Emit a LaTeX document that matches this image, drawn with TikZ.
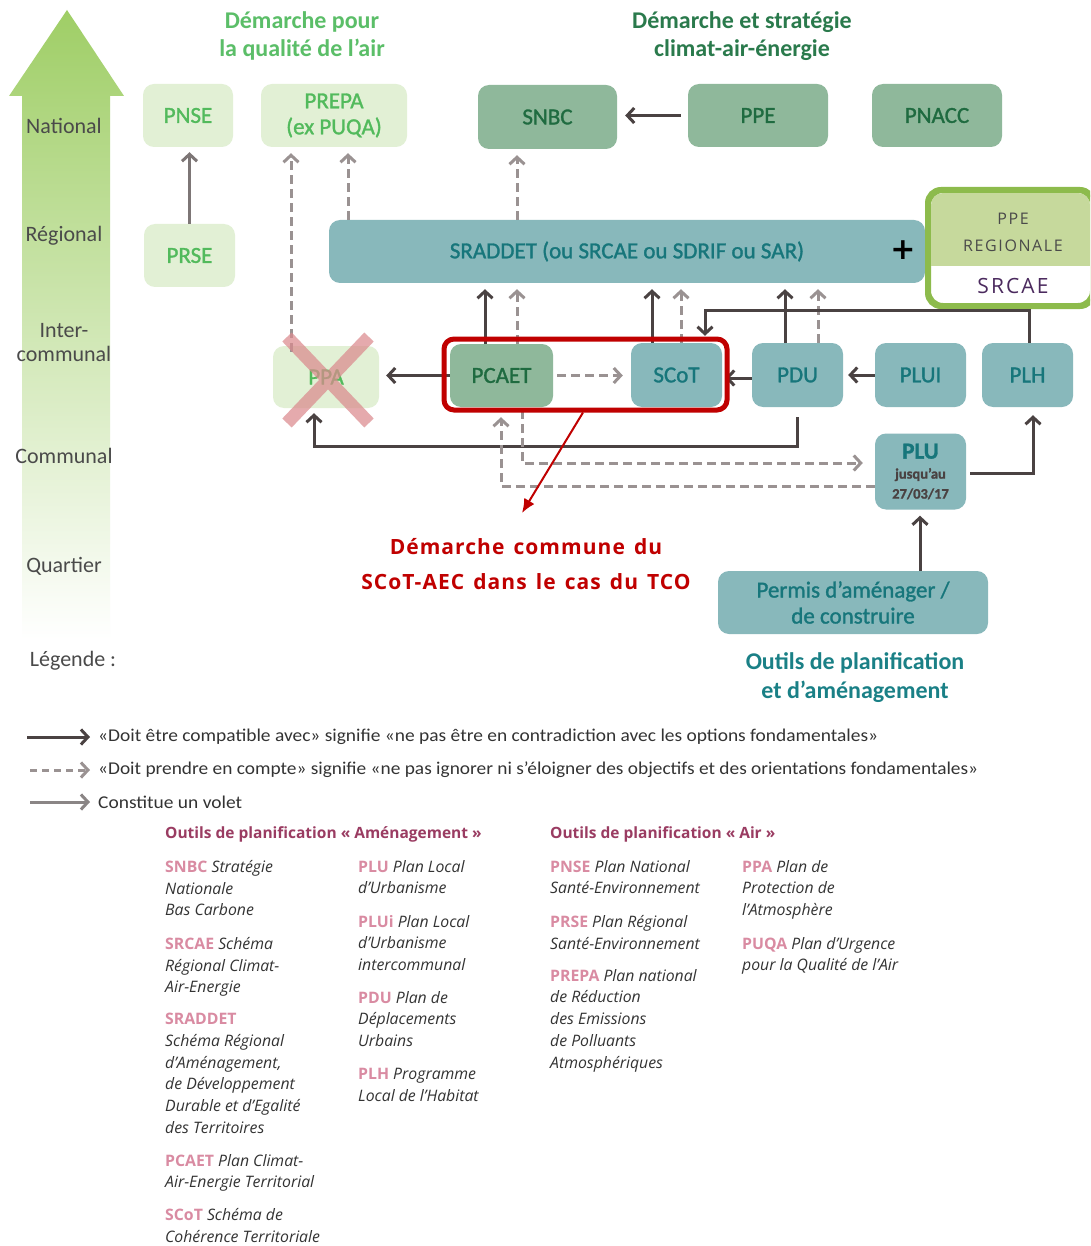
\documentclass[tikz,border=0pt]{standalone}
\usepackage{fontspec}
\usepackage{graphicx}
\setmainfont{Carlito}
\newfontfamily\boxfont[FakeBold=1.3]{Carlito}
\newfontfamily\osans{Open Sans}
\newfontfamily\osansls[LetterSpace=5,WordSpace=1.4]{Open Sans}
\newfontfamily\ppefont[LetterSpace=10]{Open Sans}
\newfontfamily\dejavu{DejaVu Sans}
\usetikzlibrary{arrows.meta,calc}
\newcommand{\fs}[2]{\fontsize{#1}{#2}\selectfont}
\definecolor{lgfill}{HTML}{E2F0D5}
\definecolor{lgtext}{HTML}{52BA5C}
\definecolor{mgfill}{HTML}{8FB89B}
\definecolor{mgtext}{HTML}{1F6B40}
\definecolor{tfill}{HTML}{88B8BB}
\definecolor{ttext}{HTML}{17767B}
\definecolor{dk}{HTML}{4A4242}
\definecolor{gr}{HTML}{9A9292}
\definecolor{grb}{HTML}{7D7676}
\definecolor{grc}{HTML}{8A8585}
\definecolor{redc}{HTML}{C00000}
\definecolor{hone}{HTML}{5BBE68}
\definecolor{htwo}{HTML}{2A7A4C}
\definecolor{plum}{HTML}{9A3C62}
\definecolor{pinkab}{HTML}{D98BA2}
\definecolor{levc}{HTML}{4A4A4A}
\definecolor{ppeb}{HTML}{8DBB4C}
\definecolor{ppef}{HTML}{C6D99C}
\definecolor{purp}{HTML}{4B2A5E}
\definecolor{xred}{HTML}{DB8A8E}
\definecolor{arrg}{HTML}{9FCE66}
\definecolor{gtext}{HTML}{333333}
\definecolor{tcap}{HTML}{1A8086}
\newcommand{\ab}[1]{{\upshape\bfseries\color{pinkab}#1}}
\newcommand{\smalldk}[1]{{\color{dk}\bfseries\fontsize{14.5}{19}\selectfont #1}}
\begin{document}
\begin{tikzpicture}[x=1pt,y=-1pt,
  >={Straight Barb[length=7pt,width=15pt]},
  box/.style={rounded corners=11pt, inner sep=0pt, font=\boxfont\fs{23}{26}, align=center},
  lgbox/.style={box, fill=lgfill, text=lgtext},
  mgbox/.style={box, fill=mgfill, text=mgtext},
  tlbox/.style={box, fill=tfill, text=ttext},
  sarr/.style={->, draw=dk, line width=3pt},
  darr/.style={->, draw=gr, line width=3pt, dash pattern=on 9pt off 5pt},
  garr/.style={->, draw=grb, line width=3pt},
  levl/.style={font=\fs{22}{24}, text=levc, align=center},
  gl/.style={anchor=north west, inner sep=0pt, align=left, text=gtext, font=\osans\itshape\fs{15.8}{21.7}},
  glhead/.style={anchor=west, inner sep=0pt, text=plum, font=\osans\bfseries\fs{15.5}{17}},
  legtxt/.style={anchor=west, inner sep=0pt, text=gtext, font=\fs{18}{20}}
]
\clip (0,0) rectangle (1090,1246);
\fill[white] (0,0) rectangle (1090,1246);

% gradient level arrow
\shade[top color=arrg, middle color=arrg!55, bottom color=white]
  (67,10) -- (124,96) -- (110,96) -- (110,640) -- (22,640) -- (22,96) -- (9,96) -- cycle;

\node[levl] (lvnat) at (64,126) {National};
\node[levl] (lvreg) at (64,236) {Régional};
\node[levl] (lvint) at (64,343) {Inter-\\communal};
\node[levl] (lvcom) at (64,456) {Communal};
\node[levl] (lvqua) at (64,566) {Quartier};
\node[levl] (lvleg) at (73,661) {Légende :};

% headings
\node[align=center, text=hone, font=\bfseries\fs{24}{28}] (hair) at (302,36) {Démarche pour\\la qualité de l’air};
\node[align=center, text=htwo, font=\bfseries\fs{24}{28}] (hclim) at (742,36) {Démarche et stratégie\\climat-air-énergie};

% nodes
\node[lgbox, minimum width=90pt, minimum height=63pt] (pnse) at (188,115.5) {PNSE};
\node[lgbox, minimum width=146pt, minimum height=63pt] (prepa) at (334,115.5) {PREPA\\(ex PUQA)};
\node[lgbox, minimum width=91pt, minimum height=63pt] (prse) at (189.5,255.5) {PRSE};
\node[mgbox, minimum width=139pt, minimum height=64pt] (snbc) at (547.5,117) {SNBC};
\node[mgbox, minimum width=140pt, minimum height=63pt] (ppe) at (758,115.5) {PPE};
\node[mgbox, minimum width=130pt, minimum height=63pt] (pnacc) at (937,115.5) {PNACC};
\node[tlbox, minimum width=596pt, minimum height=63pt] (srad) at (627,251.5) {SRADDET (ou SRCAE ou SDRIF ou SAR)};
\node[text=black, font=\dejavu\bfseries\fs{30}{30}, inner sep=0pt] (plus) at (903,250) {+};

% PPE regionale
\node[draw=ppeb, line width=4pt, rounded corners=14pt, fill=white, minimum width=163pt, minimum height=114pt, inner sep=0pt] (ppereg) at (1010.5,248) {};
\begin{scope}
  \clip[rounded corners=12pt] (931,193) rectangle (1090,303);
  \fill[ppef] (931,193) rectangle (1090,266);
\end{scope}
\draw[ppeb, line width=4pt, rounded corners=14pt] (ppereg.north west) rectangle (ppereg.south east);
\node[text=levc, font=\ppefont\fs{16}{18}] (ppet1) at (1013,219) {PPE};
\node[text=levc, font=\ppefont\fs{16}{18}] (ppet2) at (1013,246) {REGIONALE};
\node[text=purp, font=\ppefont\fs{21}{24}] (ppet3) at (1013,286) {SRCAE};

\node[lgbox, minimum width=106pt, minimum height=62pt] (ppa) at (326,377) {PPA};
\node[mgbox, minimum width=103pt, minimum height=63pt] (pcaet) at (501.5,375.5) {PCAET};
\node[tlbox, minimum width=91pt, minimum height=64pt] (scot) at (676.5,375) {SCoT};
\node[tlbox, minimum width=91pt, minimum height=64pt] (pdu) at (797.5,375) {PDU};
\node[tlbox, minimum width=91pt, minimum height=64pt] (plui) at (920.5,375) {PLUI};
\node[tlbox, minimum width=91pt, minimum height=64pt] (plh) at (1027.5,375) {PLH};
\node[tlbox, minimum width=91pt, minimum height=76pt, font=\boxfont\fs{23}{20}] (plu) at (920.5,471.5) {\textbf{PLU}\\\smalldk{jusqu’au}\\\smalldk{27/03/17}};
\node[tlbox, minimum width=270pt, minimum height=63pt] (permis) at (853,602.5) {Permis d’aménager /\\de construire};

% column / row coordinates
\coordinate (x291) at (291,0);
\coordinate (x348) at (348,0);
\coordinate (x485) at (485,0);
\coordinate (x517) at (517,0);
\coordinate (x652) at (652,0);
\coordinate (x681) at (681,0);
\coordinate (x785) at (785,0);
\coordinate (x818) at (818,0);
\coordinate (x705) at (705,0);
\coordinate (x1029) at (1029,0);
\coordinate (x314) at (314,0);
\coordinate (x522) at (522,0);
\coordinate (x501) at (501,0);
\coordinate (x1033) at (1033,0);
\coordinate (x583) at (583,0);
\coordinate (x920) at (920,0);
\coordinate (y310) at (0,310);
\coordinate (y446) at (0,446);
\coordinate (y463) at (0,463);
\coordinate (y486) at (0,486);
\coordinate (y473) at (0,473);
\coordinate (y378) at (0,378);

% connectors
\draw[garr, shorten >=5pt] (prse.north) -- (prse.north |- pnse.south);
\draw[darr, shorten <=-6pt, shorten >=6pt] (ppa.north -| x291) -- (prepa.south -| x291);
\draw[darr, shorten >=6pt] (srad.north -| x348) -- (prepa.south -| x348);
\draw[darr, shorten >=6pt] (srad.north -| x517) -- (snbc.south -| x517);
\draw[sarr, shorten <=7pt, shorten >=8pt] (ppe.west) -- (snbc.east |- ppe.west);
\draw[sarr, shorten >=6pt] (pcaet.north -| x485) -- (srad.south -| x485);
\draw[darr, shorten >=6pt] (pcaet.north -| x517) -- (srad.south -| x517);
\draw[sarr, shorten >=6pt] (scot.north -| x652) -- (srad.south -| x652);
\draw[darr, shorten >=6pt] (scot.north -| x681) -- (srad.south -| x681);
\draw[sarr, shorten >=6pt] (pdu.north -| x785) -- (srad.south -| x785);
\draw[darr, shorten >=6pt] (pdu.north -| x818) -- (srad.south -| x818);
\draw[sarr, shorten >=7pt] (plh.north -| x1029) |- (x705 |- y310) -- (scot.north -| x705);
\draw[sarr, shorten >=7pt] (pcaet.west) -- (ppa.east |- pcaet.west);
\draw[darr, shorten <=4pt, shorten >=8pt] (pcaet.east) -- (scot.west |- pcaet.east);
\draw[sarr, shorten >=3pt] (pdu.west |- y378) -- (scot.east |- y378);
\draw[sarr, shorten >=5pt] (plui.west) -- (pdu.east |- plui.west);
\draw[sarr, shorten <=10pt, shorten >=5pt] (pdu.south) -- (pdu.south |- y446) -| (ppa.south -| x314);
\draw[darr, shorten <=3pt, shorten >=12pt] (pcaet.south -| x522) |- (plu.west |- y463);
\draw[darr, shorten >=10pt] (plu.west |- y486) -| (pcaet.south -| x501);
\draw[sarr, shorten <=4pt, shorten >=8pt] (plu.east |- y473) -| (plh.south -| x1033);
\draw[sarr, shorten >=6pt] (permis.north -| x920) -- (plu.south -| x920);

% red X over PPA
\draw[xred, line width=13pt, opacity=0.72] (287,337) -- (369,423) (369,337) -- (287,423);

% red frame and annotation
\node[draw=redc, line width=5pt, rounded corners=10pt, minimum width=283pt, minimum height=71pt, inner sep=0pt] (tco) at (585.5,374.5) {};
\coordinate (redend) at (522,513);
\draw[redc, line width=2pt, -{Latex[length=14pt,width=12pt]}] (tco.south -| x583) -- (redend);
\node[align=center, text=redc, font=\osansls\bfseries\fs{21}{35}] (redcap) at (526,564.5) {Démarche commune du\\SCoT-AEC dans le cas du TCO};

\node[align=center, text=tcap, font=\bfseries\fs{24}{29}] (tcapn) at (855,677.5) {Outils de planification\\et d’aménagement};

% legend
\coordinate (la1) at (27,737); \coordinate (lb1) at (90,737);
\coordinate (la2) at (30,770); \coordinate (lb2) at (90,770);
\coordinate (la3) at (30,802); \coordinate (lb3) at (90,802);
\draw[sarr] (la1) -- (lb1);
\draw[darr, dash pattern=on 7pt off 5pt] (la2) -- (lb2);
\draw[->, draw=grc, line width=3pt] (la3) -- (lb3);
\node[legtxt] (leg1) at (98,737) {\resizebox{780pt}{\height}{«Doit être compatible avec» signifie «ne pas être en contradiction avec les options fondamentales»}};
\node[legtxt] (leg2) at (98,770) {\resizebox{880pt}{\height}{«Doit prendre en compte» signifie «ne pas ignorer ni s’éloigner des objectifs et des orientations fondamentales»}};
\node[legtxt] (leg3) at (98,802) {\resizebox{144pt}{\height}{Constitue un volet}};

% glossary
\node[glhead] (gh1) at (165,834) {Outils de planification « Aménagement »};
\node[glhead] (gh2) at (550,834) {Outils de planification « Air »};

\node[gl] (g1) at (165,860) {\ab{SNBC} Stratégie\\Nationale\\Bas Carbone};
\node[gl] (g2) at (165,937) {\ab{SRCAE} Schéma\\Régional Climat-\\Air-Energie};
\node[gl] (g3) at (165,1013) {\ab{SRADDET}\\Schéma Régional\\d’Aménagement,\\de Développement\\Durable et d’Egalité\\des Territoires};
\node[gl] (g4) at (165,1154) {\ab{PCAET} Plan Climat-\\Air-Energie Territorial};
\node[gl] (g5) at (165,1208) {\ab{SCoT} Schéma de\\Cohérence Territoriale};

\node[gl] (g6) at (358,860) {\ab{PLU} Plan Local\\d’Urbanisme};
\node[gl] (g7) at (358,915) {\ab{PLUi} Plan Local\\d’Urbanisme\\intercommunal};
\node[gl] (g8) at (358,991) {\ab{PDU} Plan de\\Déplacements\\Urbains};
\node[gl] (g9) at (358,1068) {\ab{PLH} Programme\\Local de l’Habitat};

\node[gl] (g10) at (550,860) {\ab{PNSE} Plan National\\Santé-Environnement};
\node[gl] (g11) at (550,915) {\ab{PRSE} Plan Régional\\Santé-Environnement};
\node[gl] (g12) at (550,969) {\ab{PREPA} Plan national\\de Réduction\\des Emissions\\de Polluants\\Atmosphériques};

\node[gl] (g13) at (742,860) {\ab{PPA} Plan de\\Protection de\\l’Atmosphère};
\node[gl] (g14) at (742,937) {\ab{PUQA} Plan d’Urgence\\pour la Qualité de l’Air};
\end{tikzpicture}
\end{document}
